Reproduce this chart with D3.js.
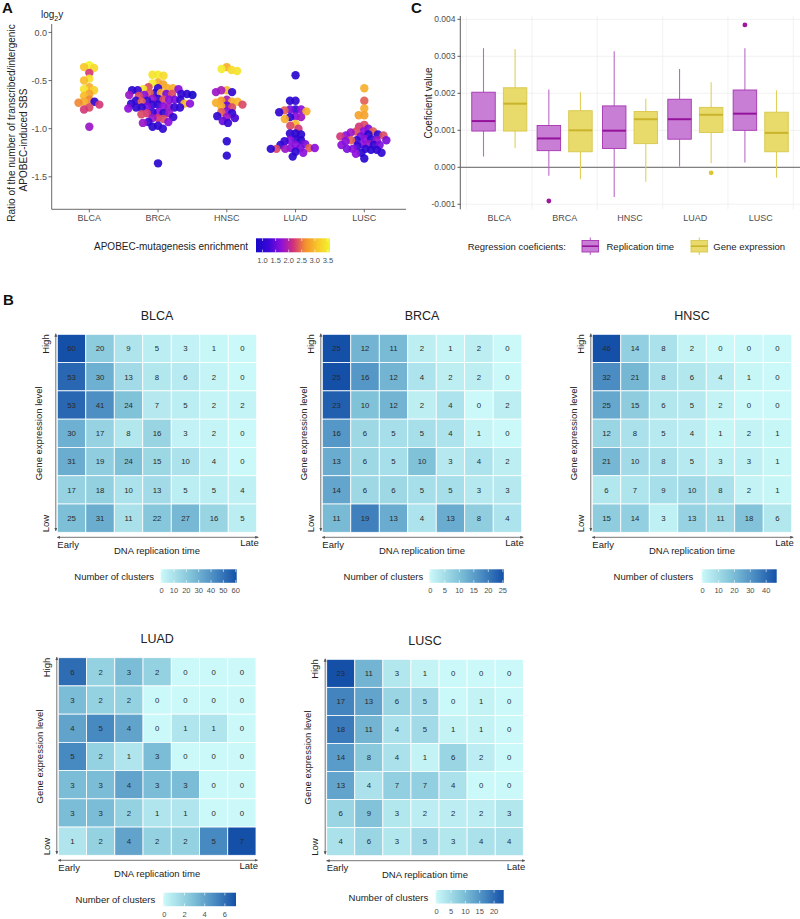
<!DOCTYPE html>
<html><head><meta charset="utf-8">
<script src="https://cdn.jsdelivr.net/npm/d3@7"></script>
<style>body{margin:0;background:#fff} text{font-family:"Liberation Sans",Arial,Helvetica,sans-serif}</style>
</head><body><svg id="c" width="800" height="919"></svg>
<script>
// ================= DATA =================
const cancers = ["BLCA","BRCA","HNSC","LUAD","LUSC"];

// Panel A: [log2 ratio transcribed/intergenic, APOBEC enrichment]
const swarmBLCA = [[-0.34,3.58],[-0.36,3.1],[-0.37,3.3],[-0.42,2.2],[-0.48,3.4],[-0.50,3.0],[-0.57,2.9],[-0.59,3.4],[-0.60,3.2],[-0.64,2.8],[-0.66,3.0],[-0.70,2.6],[-0.72,2.9],[-0.73,2.6],[-0.72,1.1],[-0.75,2.2],[-0.78,2.3],[-0.80,2.2],[-0.98,1.8]];
const swarmBRCA = [[-0.44,3.5],[-0.44,3.4],[-0.45,3.3],[-0.52,2.9],[-0.53,3.5],[-0.54,2.8],[-0.57,2.3],[-0.58,1.1],[-0.58,2.9],[-0.59,3.4],[-0.58,2.9],[-0.59,1.7],[-0.60,1.2],[-0.60,1.0],[-0.63,1.0],[-0.64,1.6],[-0.64,2.3],[-0.63,2.8],[-0.65,1.7],[-0.64,1.1],[-0.65,1.8],[-0.63,2.4],[-0.66,2.3],[-0.64,1.1],[-0.65,0.75],[-0.69,1.1],[-0.70,2.3],[-0.70,1.7],[-0.71,1.2],[-0.69,1.8],[-0.71,1.1],[-0.70,1.6],[-0.72,2.4],[-0.70,1.1],[-0.74,3.0],[-0.74,1.1],[-0.75,1.2],[-0.74,1.7],[-0.75,1.1],[-0.77,1.7],[-0.78,1.1],[-0.77,1.6],[-0.78,1.2],[-0.77,1.8],[-0.78,1.1],[-0.79,1.7],[-0.78,1.1],[-0.83,1.7],[-0.84,1.1],[-0.84,2.2],[-0.85,2.3],[-0.84,1.8],[-0.83,1.2],[-0.88,1.1],[-0.89,2.2],[-0.89,1.8],[-0.90,2.3],[-0.93,1.2],[-0.93,1.7],[-0.94,1.8],[-0.97,1.1],[-0.98,1.0],[-1.0,1.1],[-1.36,1.0]];
const swarmHNSC = [[-0.36,2.9],[-0.38,3.5],[-0.40,3.4],[-0.39,3.3],[-0.60,3.0],[-0.62,1.1],[-0.62,1.8],[-0.60,1.9],[-0.70,1.9],[-0.72,2.9],[-0.73,2.9],[-0.72,3.0],[-0.71,2.7],[-0.77,2.9],[-0.78,2.3],[-0.76,1.5],[-0.75,2.3],[-0.82,1.7],[-0.83,2.4],[-0.84,1.1],[-0.88,1.8],[-0.89,1.3],[-0.87,1.1],[-0.94,1.2],[-0.92,1.5],[-1.13,1.0],[-1.28,1.0]];
const swarmLUAD = [[-0.445,1.0],[-0.71,1.1],[-0.71,1.0],[-0.80,1.1],[-0.80,1.6],[-0.82,2.9],[-0.83,1.1],[-0.81,2.4],[-0.80,1.7],[-0.87,1.7],[-0.88,1.1],[-0.90,2.9],[-0.88,1.8],[-0.95,3.0],[-0.97,2.3],[-1.00,2.2],[-1.05,1.0],[-1.05,1.1],[-1.06,1.0],[-1.11,1.1],[-1.12,1.7],[-1.12,1.0],[-1.13,1.2],[-1.16,1.6],[-1.17,1.7],[-1.17,1.1],[-1.20,1.7],[-1.20,1.6],[-1.21,1.8],[-1.20,2.4],[-1.21,2.3],[-1.20,1.7],[-1.21,1.0],[-1.24,1.1],[-1.25,1.7],[-1.29,1.0]];
const swarmLUSC = [[-0.58,2.9],[-0.71,2.4],[-0.79,2.9],[-0.86,2.8],[-0.86,2.8],[-0.96,2.3],[-0.98,2.2],[-1.0,1.6],[-1.03,1.7],[-1.03,2.3],[-1.04,1.8],[-1.03,2.4],[-1.06,1.0],[-1.07,1.7],[-1.07,2.3],[-1.08,1.6],[-1.06,1.1],[-1.08,2.2],[-1.11,1.7],[-1.12,1.1],[-1.12,1.8],[-1.12,2.4],[-1.13,1.7],[-1.12,1.6],[-1.11,1.1],[-1.16,1.7],[-1.17,1.1],[-1.16,1.8],[-1.17,1.6],[-1.18,1.2],[-1.17,1.7],[-1.21,1.1],[-1.21,1.7],[-1.22,1.0],[-1.21,1.6],[-1.22,1.1],[-1.25,1.0],[-1.25,1.1],[-1.26,1.7],[-1.31,1.0]];
const yTicksA = [0.0,-0.5,-1.0,-1.5];
const enrichTicks = [1.0,1.5,2.0,2.5,3.0,3.5];

// Panel C: [lower whisker, Q1, median, Q3, upper whisker] in units of 0.001
const repTime  = [[0.29,0.98,1.25,2.03,3.22],[-0.23,0.45,0.78,1.13,2.10],[-0.80,0.51,0.99,1.66,3.14],[0.02,0.76,1.30,1.84,2.66],[0.13,1.00,1.45,2.09,3.22]];
const geneExpr = [[0.52,0.98,1.72,2.15,3.20],[-0.32,0.42,1.00,1.53,2.03],[-0.39,0.64,1.30,1.51,1.85],[0.11,0.94,1.42,1.62,2.30],[-0.28,0.42,0.93,1.49,2.08]];
const repOutliers  = [["BRCA",-0.91],["LUSC",3.85]];
const geneOutliers = [["LUAD",-0.15]];
const coefTicks = [-0.001,0.000,0.001,0.002,0.003,0.004];

// Panel B: rows High -> Low, columns Early -> Late
const heatBLCA = [[60,20,9,5,3,1,0],[53,30,13,8,6,2,0],[53,41,24,7,5,2,2],[30,17,8,16,3,2,0],[31,19,24,15,10,4,0],[17,18,10,13,5,5,4],[25,31,11,22,27,16,5]];
const heatBRCA = [[25,12,11,2,1,2,0],[25,16,12,4,2,2,0],[23,10,12,2,4,0,2],[16,6,5,5,4,1,0],[13,6,5,10,3,4,2],[14,6,6,5,5,3,3],[11,19,13,4,13,8,4]];
const heatHNSC = [[46,14,8,2,0,0,0],[32,21,8,6,4,1,0],[25,15,6,5,2,0,0],[12,8,5,4,1,2,1],[21,10,8,5,3,3,1],[6,7,9,10,8,2,1],[15,14,3,13,11,18,6]];
const heatLUAD = [[6,2,3,2,0,0,0],[3,2,2,0,0,0,0],[4,5,4,0,1,1,0],[5,2,1,3,0,0,0],[3,3,4,3,3,0,0],[3,3,2,1,1,0,0],[1,2,4,2,2,5,7]];
const heatLUSC = [[23,11,3,1,0,0,0],[17,13,6,5,0,1,0],[18,11,4,5,1,1,0],[14,8,4,1,6,2,0],[13,4,7,7,4,0,0],[6,9,3,2,2,2,3],[4,6,3,5,3,4,4]];
const ticksBLCA = [0,10,20,30,40,50,60];
const ticksBRCA = [0,5,10,15,20,25];
const ticksHNSC = [0,10,20,30,40];
const ticksLUAD = [0,2,4,6];
const ticksLUSC = [0,5,10,15,20];

// ================= DRAW =================
const svg = d3.select("#c");
svg.append("rect").attr("width",800).attr("height",919).attr("fill","#fff");
const txtCol = "#222", tickCol = "#4d4d4d";

[["A",2,13],["C",411,13],["B",3,305]].forEach(([t,x,y])=>svg.append("text").attr("x",x).attr("y",y).text(t).attr("font-size",15).attr("font-weight","bold").attr("fill","#111"));

// ---------- Panel A ----------
const gA = svg.append("g");
const yA = d3.scaleLinear().domain([-1.8375,0.0875]).range([209.3,24]);
const xA = d3.scalePoint().domain(cancers).range([89.3,364.3]);
const enrVals = [swarmBLCA,swarmBRCA,swarmHNSC,swarmLUAD,swarmLUSC].flat().map(d=>d[1]);
const eExt = d3.extent(enrVals);
const palStops = ["#1808c8","#3a06d6","#8a0fdc","#d0307e","#f3902e","#f8c82a","#f2f430"];
const colA = d3.scaleLinear().domain(d3.range(palStops.length).map(i=>eExt[0]+i*(eExt[1]-eExt[0])/(palStops.length-1))).range(palStops).interpolate(d3.interpolateRgb);

function swarm(vals, D) {
  const pts = vals.map(d=>({v:d[0],e:d[1],y:yA(d[0])})).sort((a,b)=>a.y-b.y);
  const placed=[];
  for (const p of pts) {
    const c=[0];
    for (const q of placed){const dy=p.y-q.y; if(Math.abs(dy)<D){const dx=Math.sqrt(D*D-dy*dy); c.push(q.x+dx,q.x-dx);}}
    c.sort((a,b)=>Math.abs(a)-Math.abs(b)||a-b);
    for (const cx of c){ if(placed.every(q=>(cx-q.x)**2+(p.y-q.y)**2>=D*D-1e-6)){p.x=cx;break;} }
    placed.push(p);
  }
  return placed;
}
gA.append("line").attr("x1",51.7).attr("x2",51.7).attr("y1",24).attr("y2",209.3).attr("stroke","#444").attr("stroke-width",0.8);
gA.append("line").attr("x1",51.7).attr("x2",406).attr("y1",209.3).attr("y2",209.3).attr("stroke","#444").attr("stroke-width",0.8);
yTicksA.forEach(t=>{
  gA.append("line").attr("x1",48.5).attr("x2",51.7).attr("y1",yA(t)).attr("y2",yA(t)).attr("stroke","#444").attr("stroke-width",0.8);
  gA.append("text").attr("x",47).attr("y",yA(t)+3.2).attr("text-anchor","end").attr("font-size",9).attr("fill",tickCol).text(d3.format(".1f")(t).replace("−","-"));
});
cancers.forEach(c=>{
  gA.append("line").attr("x1",xA(c)).attr("x2",xA(c)).attr("y1",209.3).attr("y2",212.3).attr("stroke","#444").attr("stroke-width",0.8);
  gA.append("text").attr("x",xA(c)).attr("y",220.7).attr("text-anchor","middle").attr("font-size",9).attr("fill",tickCol).text(c);
});
[swarmBLCA,swarmBRCA,swarmHNSC,swarmLUAD,swarmLUSC].forEach((s,i)=>{
  const pts = swarm(s,5.6);
  gA.selectAll(null).data(pts).enter().append("circle")
    .attr("cx",d=>xA(cancers[i])+d.x).attr("cy",d=>d.y).attr("r",4.2)
    .attr("fill",d=>colA(d.e)).attr("fill-opacity",0.92);
});
gA.append("text").attr("transform","translate(15,123) rotate(-90)").attr("text-anchor","middle").attr("font-size",10).attr("fill",txtCol).text("Ratio of the number of transcribed/intergenic");
gA.append("text").attr("transform","translate(27,140) rotate(-90)").attr("text-anchor","middle").attr("font-size",10).attr("fill",txtCol).text("APOBEC-induced SBS");
const lg = gA.append("text").attr("x",41).attr("y",18).attr("font-size",10).attr("fill",txtCol);
lg.append("tspan").text("log"); lg.append("tspan").attr("font-size",7).attr("dy",3).text("2"); lg.append("tspan").attr("dy",-3).text("y");
const defs = svg.append("defs");
const gradA = defs.append("linearGradient").attr("id","gA");
palStops.forEach((c,i)=>gradA.append("stop").attr("offset",(i/(palStops.length-1)*100)+"%").attr("stop-color",c));
gA.append("text").attr("x",248).attr("y",249.5).attr("text-anchor","end").attr("font-size",10).attr("fill",txtCol).text("APOBEC-mutagenesis enrichment");
const lxA = d3.scaleLinear().domain(eExt).range([256,330]);
gA.append("rect").attr("x",256).attr("y",238.3).attr("width",74).attr("height",14).attr("fill","url(#gA)");
enrichTicks.forEach(t=>{
  gA.append("line").attr("x1",lxA(t)).attr("x2",lxA(t)).attr("y1",238.3).attr("y2",241).attr("stroke","#fff").attr("stroke-width",0.6);
  gA.append("line").attr("x1",lxA(t)).attr("x2",lxA(t)).attr("y1",249.6).attr("y2",252.3).attr("stroke","#fff").attr("stroke-width",0.6);
  gA.append("text").attr("x",lxA(t)).attr("y",263).attr("text-anchor","middle").attr("font-size",7.5).attr("fill",tickCol).text(d3.format(".1f")(t));
});

// ---------- Panel C ----------
const gC = svg.append("g");
const yC = d3.scaleLinear().domain([-0.001135,0.00409]).range([209.3,16]);
const xC = d3.scalePoint().domain(cancers).range([499.3,760.7]);
coefTicks.forEach(t=>{
  gC.append("line").attr("x1",461).attr("x2",800).attr("y1",yC(t)).attr("y2",yC(t)).attr("stroke","#ececec").attr("stroke-width",0.7);
});
cancers.concat(["end"]).forEach((c,i)=>{
  const x = 499.3 + i*65.35 - 32.7;
  gC.append("line").attr("x1",x).attr("x2",x).attr("y1",16).attr("y2",209.3).attr("stroke","#ececec").attr("stroke-width",0.7);
});
gC.append("line").attr("x1",461).attr("x2",800).attr("y1",yC(0)).attr("y2",yC(0)).attr("stroke","#555").attr("stroke-width",0.9);
gC.append("line").attr("x1",460.3).attr("x2",460.3).attr("y1",16).attr("y2",209.3).attr("stroke","#333").attr("stroke-width",0.8);
coefTicks.forEach(t=>{
  gC.append("line").attr("x1",457.5).attr("x2",460.3).attr("y1",yC(t)).attr("y2",yC(t)).attr("stroke","#333").attr("stroke-width",0.8);
  gC.append("text").attr("x",455.5).attr("y",yC(t)+3).attr("text-anchor","end").attr("font-size",8.5).attr("fill",tickCol).text(d3.format(".3f")(t).replace("−","-"));
});
cancers.forEach(c=>gC.append("text").attr("x",xC(c)).attr("y",220.7).attr("text-anchor","middle").attr("font-size",9).attr("fill",tickCol).text(c));
gC.append("text").attr("transform","translate(432,103) rotate(-90)").attr("text-anchor","middle").attr("font-size",10).attr("fill",txtCol).text("Coeficient value");
const styles = {
  rep:{fill:"#c87ed4",stroke:"#a634b2",whisk:"#bb6ac8",med:"#95139c",pt:"#a0179f",off:-15.8},
  gene:{fill:"#e8da6b",stroke:"#d8c84c",whisk:"#e0d05a",med:"#c9b42c",pt:"#d9c632",off:15.8}
};
function boxes(stats, st){
  const bw=23.5;
  stats.forEach((s,i)=>{
    const cx = xC(cancers[i])+st.off;
    const k = v=>yC(v/1000);
    gC.append("line").attr("x1",cx).attr("x2",cx).attr("y1",k(s[3])).attr("y2",k(s[4])).attr("stroke",st.whisk).attr("stroke-width",1.1);
    gC.append("line").attr("x1",cx).attr("x2",cx).attr("y1",k(s[1])).attr("y2",k(s[0])).attr("stroke",st.whisk).attr("stroke-width",1.1);
    gC.append("rect").attr("x",cx-bw/2).attr("y",k(s[3])).attr("width",bw).attr("height",k(s[1])-k(s[3])).attr("fill",st.fill).attr("stroke",st.stroke).attr("stroke-width",0.9);
    gC.append("line").attr("x1",cx-bw/2).attr("x2",cx+bw/2).attr("y1",k(s[2])).attr("y2",k(s[2])).attr("stroke",st.med).attr("stroke-width",2);
  });
}
boxes(repTime, styles.rep);
boxes(geneExpr, styles.gene);
repOutliers.forEach(([c,v])=>gC.append("circle").attr("cx",xC(c)+styles.rep.off).attr("cy",yC(v/1000)).attr("r",2.4).attr("fill",styles.rep.pt));
geneOutliers.forEach(([c,v])=>gC.append("circle").attr("cx",xC(c)+styles.gene.off).attr("cy",yC(v/1000)).attr("r",2.4).attr("fill",styles.gene.pt));
gC.append("text").attr("x",467.7).attr("y",249.5).attr("font-size",9.5).attr("fill",txtCol).text("Regression coeficients:");
[["rep",582,"Replication time",606.5],["gene",691,"Gene expression",713.3]].forEach(([k,x,lab,tx])=>{
  const st=styles[k];
  gC.append("line").attr("x1",x+8.3).attr("x2",x+8.3).attr("y1",237.5).attr("y2",255).attr("stroke",st.whisk).attr("stroke-width",1.1);
  gC.append("rect").attr("x",x).attr("y",240.5).attr("width",16.6).attr("height",11.5).attr("fill",st.fill).attr("stroke",st.stroke).attr("stroke-width",0.9);
  gC.append("line").attr("x1",x).attr("x2",x+16.6).attr("y1",246.2).attr("y2",246.2).attr("stroke",st.med).attr("stroke-width",1.6);
  gC.append("text").attr("x",tx).attr("y",249.5).attr("font-size",9.5).attr("fill",txtCol).text(lab);
});

// ---------- Panel B ----------
const heatLayout = [
  {name:"BLCA",data:heatBLCA,ticks:ticksBLCA,x0:57.3,y0:334.3,x1:256.7,y1:532.3,legEnd:154,barX:160.7,barW:76,barY:569.3},
  {name:"BRCA",data:heatBRCA,ticks:ticksBRCA,x0:322.3,y0:334.3,x1:521.7,y1:532.3,legEnd:423.3,barX:429.3,barW:74.5,barY:569.3},
  {name:"HNSC",data:heatHNSC,ticks:ticksHNSC,x0:592.3,y0:334.3,x1:791.7,y1:532.3,legEnd:693.3,barX:701.7,barW:75,barY:569.3},
  {name:"LUAD",data:heatLUAD,ticks:ticksLUAD,x0:58.3,y0:657.7,x1:256,y1:855.3,legEnd:155.3,barX:163.3,barW:72.7,barY:892.7},
  {name:"LUSC",data:heatLUSC,ticks:ticksLUSC,x0:326.7,y0:659.3,x1:523.3,y1:855.7,legEnd:428.3,barX:435.7,barW:68,barY:890}
];
const rampStops = [0,0.4,0.7,1], rampCols = ["#cbf9f9","#80c2d8","#4a8cc2","#1450a8"];
const ramp = d3.scaleLinear().domain(rampStops).range(rampCols).interpolate(d3.interpolateRgb);
const gradB = defs.append("linearGradient").attr("id","gB");
d3.range(0,11).forEach(i=>gradB.append("stop").attr("offset",(i*10)+"%").attr("stop-color",ramp(i/10)));
defs.append("marker").attr("id","arr").attr("viewBox","0 0 6 6").attr("refX",5).attr("refY",3).attr("markerWidth",4).attr("markerHeight",4).attr("orient","auto-start-reverse")
  .append("path").attr("d","M0,0.5 L6,3 L0,5.5 Z").attr("fill","#555");

heatLayout.forEach(L=>{
  const g = svg.append("g");
  const cols = d3.range(7), rows = d3.range(7);
  const x = d3.scaleBand().domain(cols).range([L.x0,L.x1]);
  const y = d3.scaleBand().domain(rows).range([L.y0,L.y1]);
  const mx = d3.max(L.data.flat());
  const norm = d3.scaleLinear().domain([0,mx]).range([0,1]);
  const cells = L.data.flatMap((r,ri)=>r.map((v,ci)=>({r:ri,c:ci,v})));
  g.selectAll(null).data(cells).enter().append("rect")
    .attr("x",d=>x(d.c)).attr("y",d=>y(d.r)).attr("width",x.bandwidth()).attr("height",y.bandwidth())
    .attr("fill",d=>ramp(norm(d.v))).attr("stroke","#fff").attr("stroke-width",0.8);
  g.selectAll(null).data(cells).enter().append("text")
    .attr("x",d=>x(d.c)+x.bandwidth()/2).attr("y",d=>y(d.r)+y.bandwidth()/2+2.8)
    .attr("text-anchor","middle").attr("font-size",7.8).attr("fill","#2a2a2a").text(d=>d.v);
  const cx = (L.x0+L.x1)/2, cy=(L.y0+L.y1)/2;
  g.append("text").attr("x",cx).attr("y",L.y0-14.5).attr("text-anchor","middle").attr("font-size",12.5).attr("fill",txtCol).text(L.name);
  g.append("line").attr("x1",L.x0-1.5).attr("x2",L.x0-1.5).attr("y1",L.y0-0.5).attr("y2",L.y1-1.5)
    .attr("stroke","#666").attr("stroke-width",0.9).attr("marker-start","url(#arr)").attr("marker-end","url(#arr)");
  g.append("line").attr("x1",L.x0).attr("x2",L.x1+1.5).attr("y1",L.y1+5).attr("y2",L.y1+5)
    .attr("stroke","#666").attr("stroke-width",0.9).attr("marker-start","url(#arr)").attr("marker-end","url(#arr)");
  g.append("text").attr("transform",`translate(${L.x0-8.5},${L.y0}) rotate(-90)`).attr("text-anchor","end").attr("font-size",9.5).attr("fill",txtCol).text("High");
  g.append("text").attr("transform",`translate(${L.x0-8.5},${L.y1}) rotate(-90)`).attr("text-anchor","start").attr("font-size",9.5).attr("fill",txtCol).text("Low");
  g.append("text").attr("transform",`translate(${L.x0-15.5},${cy}) rotate(-90)`).attr("text-anchor","middle").attr("font-size",9.5).attr("fill",txtCol).text("Gene expression level");
  g.append("text").attr("x",L.x0).attr("y",L.y1+15.5).attr("font-size",9.5).attr("fill",txtCol).text("Early");
  g.append("text").attr("x",L.x1+2).attr("y",L.y1+14).attr("text-anchor","end").attr("font-size",9.5).attr("fill",txtCol).text("Late");
  g.append("text").attr("x",cx).attr("y",L.y1+22).attr("text-anchor","middle").attr("font-size",9.5).attr("fill",txtCol).text("DNA replication time");
  g.append("text").attr("x",L.legEnd).attr("y",L.barY+10.5).attr("text-anchor","end").attr("font-size",9.5).attr("fill",txtCol).text("Number of clusters");
  g.append("rect").attr("x",L.barX).attr("y",L.barY).attr("width",L.barW).attr("height",13.5).attr("fill","url(#gB)");
  const lx = d3.scaleLinear().domain([0,mx]).range([L.barX+1,L.barX+L.barW-1]);
  L.ticks.forEach(t=>{
    g.append("line").attr("x1",lx(t)).attr("x2",lx(t)).attr("y1",L.barY).attr("y2",L.barY+2.7).attr("stroke","#fff").attr("stroke-width",0.6);
    g.append("line").attr("x1",lx(t)).attr("x2",lx(t)).attr("y1",L.barY+10.8).attr("y2",L.barY+13.5).attr("stroke","#fff").attr("stroke-width",0.6);
    g.append("text").attr("x",lx(t)).attr("y",L.barY+24).attr("text-anchor","middle").attr("font-size",7.5).attr("fill",tickCol).text(t);
  });
});
</script></body></html>
